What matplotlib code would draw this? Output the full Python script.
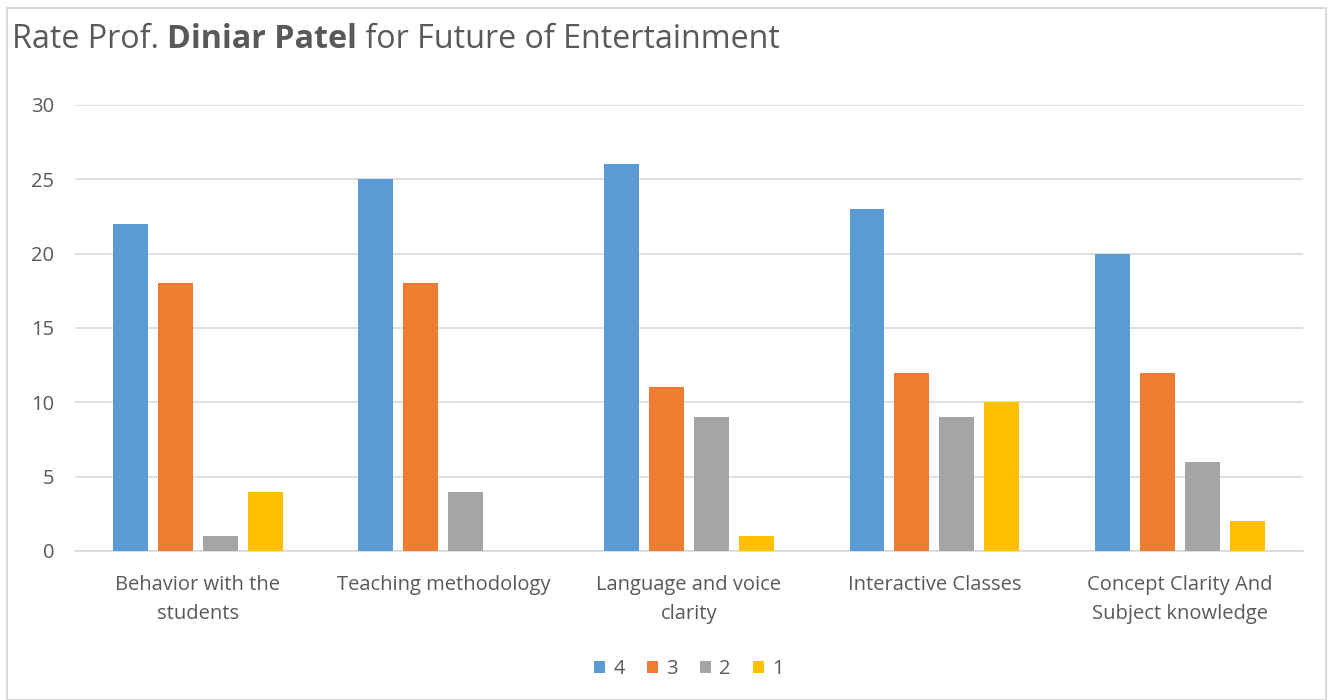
import matplotlib

matplotlib.use("Agg")
import matplotlib.pyplot as plt
import numpy as np

categories = [
    "Behavior with the\nstudents",
    "Teaching methodology",
    "Language and voice\nclarity",
    "Interactive Classes",
    "Concept Clarity And\nSubject knowledge",
]
series_names = ["4", "3", "2", "1"]
rating_4 = [22, 25, 26, 23, 20]
rating_3 = [18, 18, 11, 12, 12]
rating_2 = [1, 4, 9, 9, 6]
rating_1 = [4, 0, 1, 10, 2]
colors = ["#5B9BD5", "#ED7D31", "#A5A5A5", "#FFC000"]

plt.rcParams["font.family"] = ["Open Sans", "DejaVu Sans"]

fig = plt.figure(figsize=(13.32, 7.0), dpi=100)
ax = fig.add_axes([0.0563, 0.2129, 0.9217, 0.6371])

x = np.arange(len(categories))
width = 0.142
step = 0.183
for i, (vals, name, c) in enumerate(zip([rating_4, rating_3, rating_2, rating_1], series_names, colors)):
    ax.bar(x + (i - 1.5) * step, vals, width, color=c, label=name, zorder=3)

ax.set_xlim(-0.5, len(categories) - 0.5)
ax.set_ylim(0, 30)
ax.set_yticks(range(0, 31, 5))
ax.grid(axis="y", color="#D9D9D9", linewidth=1.2, zorder=0)
for s in ["top", "right", "left"]:
    ax.spines[s].set_visible(False)
ax.spines["bottom"].set_color("#D9D9D9")
ax.spines["bottom"].set_linewidth(1.2)
ax.tick_params(axis="both", length=0, colors="#595959", labelsize=14.5)
ax.tick_params(axis="y", pad=15)
ax.tick_params(axis="x", pad=17)
ax.set_xticks(x)
ax.set_xticklabels(categories, linespacing=1.65)

# title: regular / bold / regular pieces laid end to end
ty = 0.943
t1 = fig.text(0.009, ty, "Rate Prof. ", fontsize=23.2, color="#595959", va="center")
fig.canvas.draw()
x1 = t1.get_window_extent().x1 / fig.bbox.width
t2 = fig.text(x1, ty, "Diniar Patel", fontsize=23.2, color="#595959", va="center", fontweight="bold")
fig.canvas.draw()
x2 = t2.get_window_extent().x1 / fig.bbox.width
fig.text(x2, ty, " for Future of Entertainment", fontsize=23.2, color="#595959", va="center")

ax.legend(
    loc="center", bbox_to_anchor=(0.5, -0.265), ncol=4, frameon=False,
    fontsize=14.5, handlelength=0.55, handleheight=0.55, columnspacing=1.1,
    handletextpad=0.4, labelcolor="#595959",
)

fig.patches.append(plt.Rectangle((7 / 1332, 0.0), 1319 / 1332, 692 / 700, transform=fig.transFigure,
                                 fill=False, edgecolor="#D9D9D9", linewidth=1.5))
fig.savefig("out.png", dpi=100)
